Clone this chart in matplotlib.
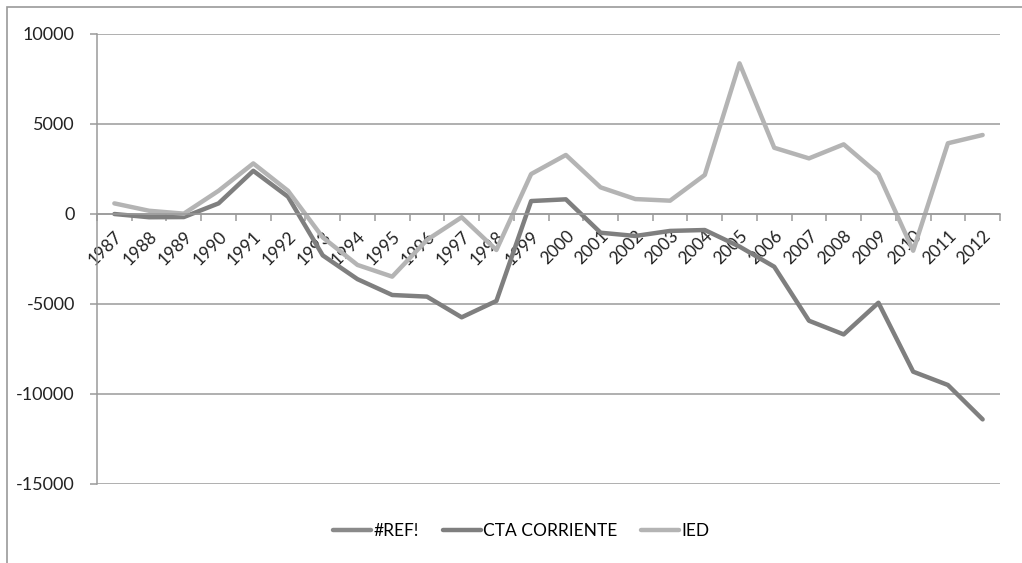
import numpy as np
import matplotlib
matplotlib.use("Agg")
import matplotlib.pyplot as plt
from matplotlib.patches import Rectangle
from matplotlib.ticker import FixedLocator

plt.rcParams['font.family'] = ['Lato', 'DejaVu Sans']
plt.rcParams['axes.unicode_minus'] = False

years = [str(y) for y in range(1987, 2013)]

# series with no data (broken reference in the source workbook)
ref_err = [np.nan] * len(years)

cta_corriente = [0, -180, -170, 590, 2400, 960, -2300, -3620, -4500, -4590,
                 -5740, -4830, 720, 815, -1040, -1220, -940, -890, -1810, -2930,
                 -5930, -6690, -4930, -8760, -9500, -11410]

ied = [590, 180, 20, 1290, 2810, 1290, -1300, -2830, -3480, -1440,
       -180, -2000, 2220, 3280, 1480, 830, 740, 2170, 8370, 3680,
       3090, 3870, 2220, -2040, 3930, 4390]

grid_col = '#9a9a9a'

fig = plt.figure(figsize=(10.22, 5.63), dpi=100)
ax = fig.add_axes([97 / 1022, 1 - 484 / 563, 903 / 1022, 450 / 563])

# outer chart frame (only left and top edges fall inside the image)
fig.patches.append(Rectangle((7 / 1022, -0.1), 1.2, 1.1 - 7 / 563,
                             transform=fig.transFigure, fill=False,
                             edgecolor=grid_col, linewidth=1.2))

x = np.arange(len(years))
ax.plot(x, ref_err, color='#8a8a8a', lw=3.2, label='#REF!', solid_capstyle='round')
ax.plot(x, cta_corriente, color='#7f7f7f', lw=3.2, label='CTA CORRIENTE', solid_capstyle='round')
ax.plot(x, ied, color='#b4b4b4', lw=3.2, label='IED', solid_capstyle='round')

ax.set_xlim(-0.5, len(years) - 0.5)
ax.set_ylim(-15000, 10000)
ax.set_yticks(range(-15000, 10001, 5000))
ax.yaxis.grid(True, color=grid_col, lw=1.1)
ax.set_axisbelow(True)

for s in ['top', 'right']:
    ax.spines[s].set_visible(False)
ax.spines['left'].set_color(grid_col)
ax.spines['left'].set_linewidth(1.1)
ax.spines['bottom'].set_position(('data', 0))
ax.spines['bottom'].set_color(grid_col)
ax.spines['bottom'].set_linewidth(1.1)

ax.set_xticks(x)
ax.set_xticklabels(years, rotation=45, ha='right', va='top',
                   rotation_mode='anchor', fontsize=12.5, color='#222222')
ax.xaxis.set_minor_locator(FixedLocator(np.arange(-0.5, len(years), 1.0)))
ax.tick_params(axis='x', which='major', length=0, pad=10)
ax.tick_params(axis='x', which='minor', length=5, color=grid_col, width=1.1)
ax.tick_params(axis='y', length=5, color=grid_col, width=1.1,
               labelsize=13, labelcolor='#222222', pad=11)

fig.legend(loc='center', bbox_to_anchor=(0.51, 1 - 531 / 563), ncol=3,
           frameon=False, fontsize=12.5, handlelength=2.2, handletextpad=0.1,
           columnspacing=1.4)

fig.savefig('out.png', dpi=100)
